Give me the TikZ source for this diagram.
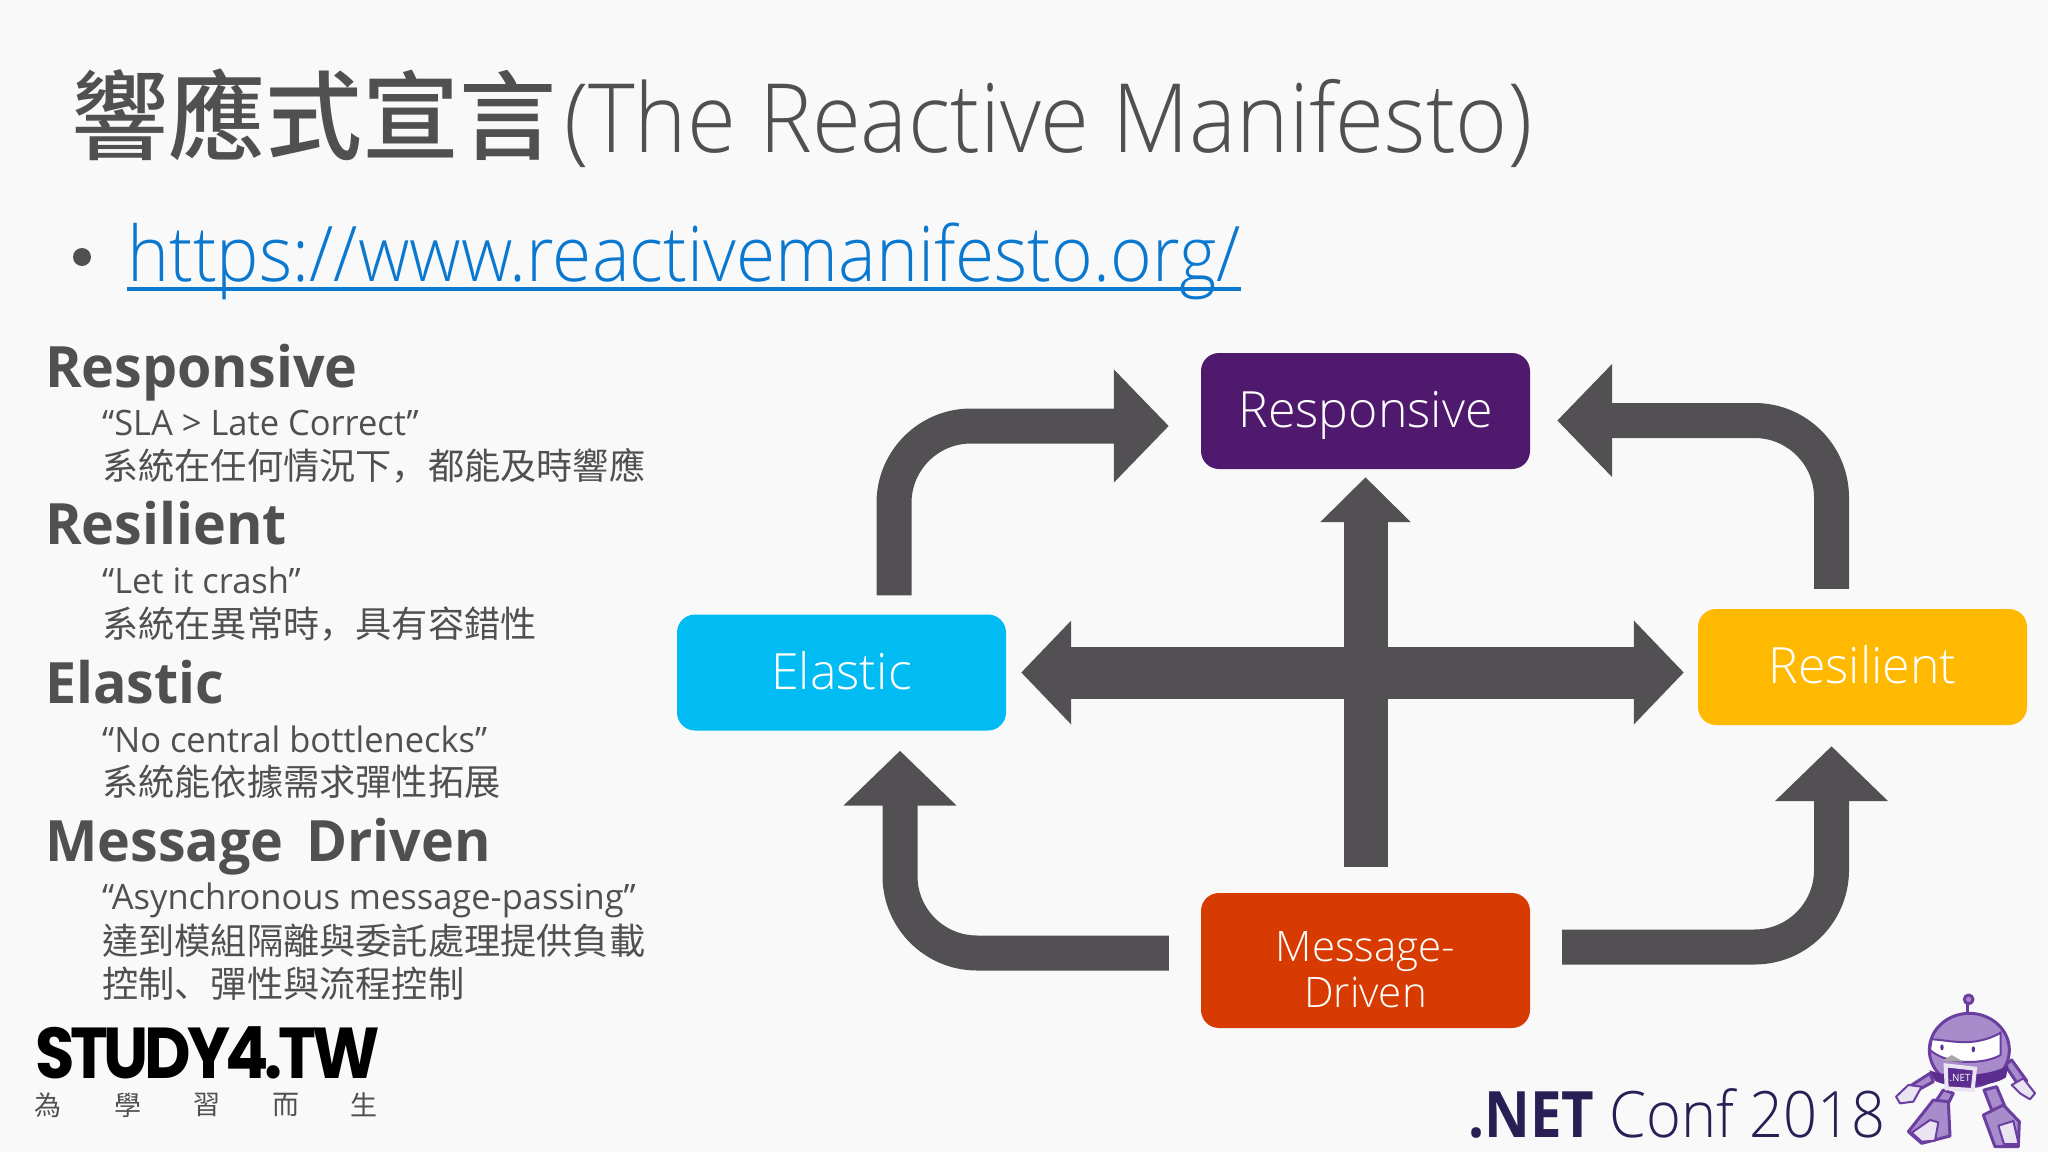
\documentclass[tikz,border=0pt]{standalone}
\usepackage{fontspec}
\usepackage{amsmath}
\usepackage{tikz}
\usetikzlibrary{positioning,arrows.meta}
\newfontfamily\lightfont{Open Sans Light}
\newfontfamily\narrowfont[FakeStretch=0.93]{Open Sans Light}
\newfontfamily\plainfont[FakeStretch=0.985]{Open Sans}
\newfontfamily\heavyfont[FakeStretch=0.975,WordSpace=1.6]{Open Sans Bold}
\newfontfamily\netfont[FakeStretch=0.88]{Open Sans Bold}
\newfontfamily\cjkfont{Noto Sans CJK TC}
\newfontfamily\cjkmedfont{Noto Sans CJK TC Medium}
\newfontfamily\scfont{Noto Sans CJK SC}
\newfontfamily\logofont[LetterSpace=-6,FakeStretch=0.89]{Poppins Bold}
\newcommand{\sz}[1]{\fontsize{#1}{#1}\selectfont}
\definecolor{pagebg}{HTML}{F9F9FA}
\definecolor{inkgray}{HTML}{505050}
\definecolor{arrowgray}{HTML}{525053}
\definecolor{linkblue}{HTML}{0B78D0}
\definecolor{boxpurple}{HTML}{4F1A6E}
\definecolor{boxcyan}{HTML}{00BCF2}
\definecolor{boxyellow}{HTML}{FFB900}
\definecolor{boxorange}{HTML}{D83B01}
\definecolor{confnavy}{HTML}{2A1F55}
\definecolor{botmid}{HTML}{A78BCB}
\definecolor{botline}{HTML}{6A3FA0}
\definecolor{botdark}{HTML}{5C2D91}
\definecolor{botpale}{HTML}{EAE3F2}
\begin{document}
\begin{tikzpicture}[
		x=1pt, y=-1pt,
		statebox/.style={rectangle, rounded corners=18pt, text=white, inner sep=0pt, align=center, minimum width=329pt, minimum height=116pt, text height=36pt, text depth=3pt, font=\lightfont\sz{50}},
		headline/.style={anchor=base west, inner sep=0pt, text=inkgray, font=\heavyfont\sz{57}},
		quoteline/.style={anchor=base west, inner sep=0pt, text=inkgray, font=\plainfont\sz{35}},
		cjkline/.style={anchor=base west, inner sep=0pt, text=inkgray, font=\cjkfont\sz{36.2}},
		sealchar/.style={text=inkgray, inner sep=0pt, font=\cjkfont\sz{27}},
		elbow/.style={draw=arrowgray, line width=35pt, rounded corners=77pt, -{Triangle[length=55pt,width=110pt]}},
		cross/.style={draw=arrowgray, -{Triangle[length=50pt,width=101pt]}},
		botshape/.style={draw=botline, line width=3pt, line join=round, fill=botmid},
		botpaleshape/.style={draw=botline, line width=2pt, line join=round, fill=botpale},
	]

	\fill[pagebg] (0,0) rectangle (2048,1152);

	%Title
	\node[anchor=base west, inner sep=0pt, text=inkgray, font=\cjkmedfont\sz{97}] (title) at (71,152) {響應式宣言};
	\node[anchor=base west, inner sep=0pt, text=inkgray, font=\narrowfont\sz{95.6}] (titlelatin) at (564,152) {(The Reactive Manifesto)};
	\node[circle, fill=inkgray, inner sep=0pt, minimum size=18pt] (bullet) at (82,257) {};
	\node[anchor=base west, inner sep=0pt, text=linkblue, font=\narrowfont\sz{76.6}] (url) at (127,281) {https://www.reactivemanifesto.org/};
	\draw[linkblue, line width=3.5pt] ([yshift=-8pt]url.base west) -- ([yshift=-8pt]url.base east);

	%List
	\node[headline] (h1) at (45,387) {Responsive};
	\node[quoteline] (q1) at (102,435) {“SLA > Late Correct”};
	\node[cjkline] (c1) at (102,479.5) {系統在任何情況下{\scfont ，}都能及時響應};
	\node[headline] (h2) at (45,544) {Resilient};
	\node[quoteline] (q2) at (102,593) {“Let it crash”};
	\node[cjkline] (c2) at (102,637.5) {系統在異常時{\scfont ，}具有容錯性};
	\node[headline] (h3) at (45,703) {Elastic};
	\node[quoteline] (q3) at (102,752) {“No central bottlenecks”};
	\node[cjkline] (c3) at (102,795.5) {系統能依據需求彈性拓展};
	\node[headline] (h4) at (45,861) {Message Driven};
	\node[quoteline] (q4) at (102,909) {“Asynchronous message-passing”};
	\node[cjkline] (c4) at (102,954.5) {達到模組隔離與委託處理提供負載};
	\node[cjkline] (c5) at (102,997.5) {控制{\scfont 、}彈性與流程控制};

	%Nodes
	\node[statebox, fill=boxpurple] (responsive) at (1365.5,411) {Responsive};
	\node[statebox, fill=boxcyan] (elastic) at (841.5,672.5) {Elastic};
	\node[statebox, fill=boxyellow] (resilient) at (1862.5,667) {Resilient};
	\node[statebox, fill=boxorange, minimum height=135pt, text height=, text depth=, font=\lightfont\sz{42}] (message) at (1365.5,960.5) {\rule{0pt}{49pt}Message-\\[4pt]Driven};

	%Lines
	\draw[cross, line width=52pt, {Triangle[length=50pt,width=101pt]}-{Triangle[length=50pt,width=101pt]}, shorten <=15pt, shorten >=14pt] (elastic.east) -- (elastic.east -| resilient.west);
	\draw[cross, line width=44pt, -{Triangle[length=45pt,width=88pt]}, shorten <=26pt, shorten >=8pt] (message.north) -- (responsive.south);
	\draw[elbow, shorten <=19pt, shorten >=32pt] ([xshift=52.5pt]elastic.north) |- ([yshift=-15pt]responsive.west);
	\draw[elbow, shorten <=20pt, shorten >=27pt] ([xshift=-31pt]resilient.north) |- ([yshift=-9.5pt]responsive.east);
	\draw[elbow, shorten <=32pt, shorten >=20pt] ([yshift=7.5pt]message.west) -| ([xshift=58.5pt]elastic.south);
	\draw[elbow, shorten <=32pt, shorten >=21pt] ([yshift=13.5pt]message.east) -| ([xshift=-31pt]resilient.south);

	%Logo
	\node[anchor=base west, inner sep=0pt, text=black, text depth=0pt, text height=50pt, font=\logofont\sz{72}] (study) at (35,1078) {STUDY4.TW};
	\node[sealchar] (wei) at (48,1105) {為};
	\node[sealchar] (xue) at (128,1105) {學};
	\node[sealchar] (xi) at (207,1105) {習};
	\node[sealchar] (er) at (286,1105) {而};
	\node[sealchar] (sheng) at (364,1105) {生};

	%Conf
	\node[anchor=base west, inner sep=0pt, text=confnavy, font=\narrowfont\sz{64}] (conf) at (1468,1137) {{\netfont .NET} Conf 2018};

	%Robot
	\begin{scope}[shift={(1880,990)}, x=0.3333pt, y=-0.3333pt]
		\draw[botshape] (190,300) -- (160,345) -- (200,350) -- (220,310) -- cycle;
		\draw[botshape] (312,300) -- (335,360) -- (375,350) -- (350,290) -- cycle;
		\draw[botshape] (160,330) -- (85,425) -- (125,460) -- (210,438) -- (205,335) -- cycle;
		\draw[botshape] (310,375) -- (345,470) -- (415,470) -- (418,395) -- (370,345) -- cycle;
		\draw[botpaleshape] (95,428) -- (150,390) -- (175,397) -- (165,452) -- (125,455) -- cycle;
		\draw[botpaleshape] (355,407) -- (400,393) -- (416,462) -- (372,462) -- cycle;
		\draw[botshape] (150,250) -- (95,285) -- (105,305) -- (160,275) -- cycle;
		\draw[botshape] (375,225) -- (415,285) -- (440,272) -- (395,210) -- cycle;
		\draw[botpaleshape] (48,320) -- (85,285) -- (125,290) -- (100,335) -- (60,340) -- cycle;
		\draw[botpaleshape] (395,285) -- (430,265) -- (465,310) -- (450,328) -- (420,310) -- cycle;
		\draw[botshape] (262,38) -- (262,78);
		\draw[botshape] (266,28) circle[radius=13];
		\draw[botshape] (268,180) ellipse[x radius=120, y radius=110];
		\draw[fill=white, draw=botline, line width=2pt] (155,148) .. controls (210,150) and (280,175) .. (362,128) -- (362,195) .. controls (310,225) and (200,225) .. (150,180) -- cycle;
		\fill[botdark] (148,240) .. controls (190,262) and (330,262) .. (385,225) -- (378,262) .. controls (330,295) and (200,295) .. (165,272) -- cycle;
		\fill[gray!70] (188,212) -- (215,195) -- (250,215) -- cycle;
		\fill[botdark] (186,172) ellipse[x radius=5, y radius=9];
		\fill[botdark] (280,178) ellipse[x radius=5, y radius=9];
		\draw[fill=botdark, draw=botpale, line width=4pt] (197,226) -- (285,236) -- (278,300) -- (200,295) -- cycle;
		\node[text=white, inner sep=0pt, font=\plainfont\sz{10}] (badge) at (240,265) {.NET};
	\end{scope}

\end{tikzpicture}
\end{document}
